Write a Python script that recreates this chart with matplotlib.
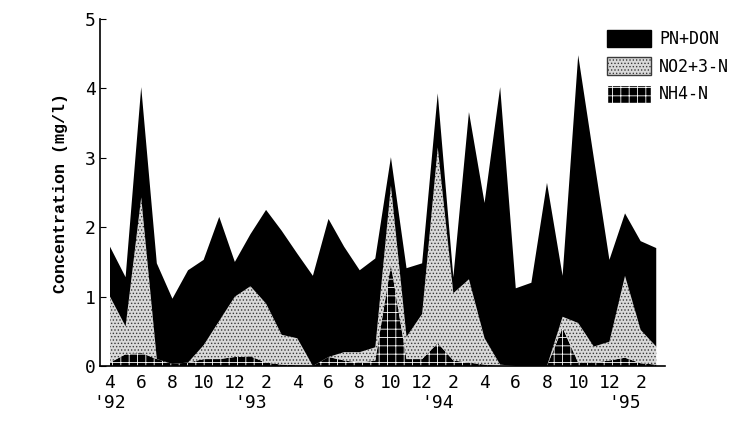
import numpy as np
import matplotlib
matplotlib.use('Agg')
import matplotlib.pyplot as plt
from matplotlib.patches import Patch

# monthly samples, Apr 1992 .. Mar 1995
months = list(range(36))
nh4 = [0.05, 0.17, 0.19, 0.10, 0.03, 0.05, 0.10, 0.10, 0.13, 0.14, 0.05, 0.02,
       0.01, 0.00, 0.13, 0.08, 0.05, 0.08, 1.46, 0.10, 0.10, 0.33, 0.08, 0.05,
       0.02, 0.00, 0.00, 0.00, 0.00, 0.55, 0.05, 0.05, 0.08, 0.12, 0.04, 0.02]
no23 = [0.95, 0.40, 2.24, 0.00, 0.00, 0.00, 0.20, 0.55, 0.87, 1.01, 0.85, 0.43,
        0.39, 0.00, 0.00, 0.12, 0.15, 0.19, 1.14, 0.32, 0.65, 2.82, 0.97, 1.20,
        0.38, 0.02, 0.00, 0.00, 0.00, 0.16, 0.57, 0.23, 0.27, 1.18, 0.48, 0.26]
pn_don = [0.72, 0.71, 1.59, 1.38, 0.94, 1.33, 1.23, 1.50, 0.50, 0.75, 1.35, 1.50,
          1.22, 1.30, 1.99, 1.52, 1.18, 1.28, 0.41, 0.99, 0.73, 0.78, 0.23, 2.41,
          1.95, 4.00, 1.12, 1.20, 2.64, 0.59, 3.86, 2.72, 1.18, 0.90, 1.28, 1.42]

tick_pos = list(range(0, 36, 2))
tick_lab = ['4', '6', '8', '10', '12', '2', '4', '6', '8', '10', '12', '2',
            '4', '6', '8', '10', '12', '2']
year_pos = [0, 9, 21, 33]
year_lab = ["'92", "'93", "'94", "'95"]

plt.rcParams['hatch.linewidth'] = 0.6

fig = plt.figure(figsize=(7.37, 4.21), dpi=100)
ax = fig.add_axes([0.1357, 0.1306, 0.767, 0.824])

x = np.array(months)
l1 = np.array(nh4)
l2 = l1 + np.array(no23)
l3 = l2 + np.array(pn_don)

brick = dict(facecolor='black', edgecolor='white', hatch='++', linewidth=0)
dots = dict(facecolor='#d9d9d9', edgecolor='#3a3a3a', hatch='.....', linewidth=0)

ax.fill_between(x, 0, l1, **brick)
ax.fill_between(x, l1, l2, **dots)
ax.fill_between(x, l2, l3, facecolor='black', linewidth=0)

ax.set_xlim(-0.64, 35.58)
ax.set_ylim(0, 5)
ax.spines['top'].set_visible(False)
ax.spines['right'].set_visible(False)
ax.spines['left'].set_linewidth(1.2)
ax.spines['bottom'].set_linewidth(1.2)

mono = 'DejaVu Sans Mono'
ax.set_yticks([0, 1, 2, 3, 4, 5])
ax.set_yticklabels(['0', '1', '2', '3', '4', '5'], family=mono, fontsize=13)
ax.tick_params(axis='y', direction='in', length=4, pad=3)
ax.set_xticks(tick_pos)
ax.set_xticklabels(tick_lab, family=mono, fontsize=13)
ax.tick_params(axis='x', length=0, pad=6)

for p, lab in zip(year_pos, year_lab):
    ax.text(p, -0.41, lab, ha='center', va='top', family=mono, fontsize=13)

ax.set_ylabel('Concentration (mg/l)', family='Liberation Mono', fontsize=12,
              fontweight='bold', labelpad=12)

handles = [Patch(facecolor='black', edgecolor='black', label='PN+DON'),
           Patch(label='NO2+3-N', **{k: v for k, v in dots.items() if k != 'linewidth'}),
           Patch(label='NH4-N', facecolor='black', edgecolor='white', hatch='++')]
leg = fig.legend(handles=handles, loc='upper left', bbox_to_anchor=(0.815, 0.945),
                 frameon=False, prop={'family': mono, 'size': 12},
                 handlelength=2.6, handleheight=1.25, handletextpad=0.5,
                 labelspacing=0.55, borderaxespad=0)

fig.savefig('out.png', dpi=100)
